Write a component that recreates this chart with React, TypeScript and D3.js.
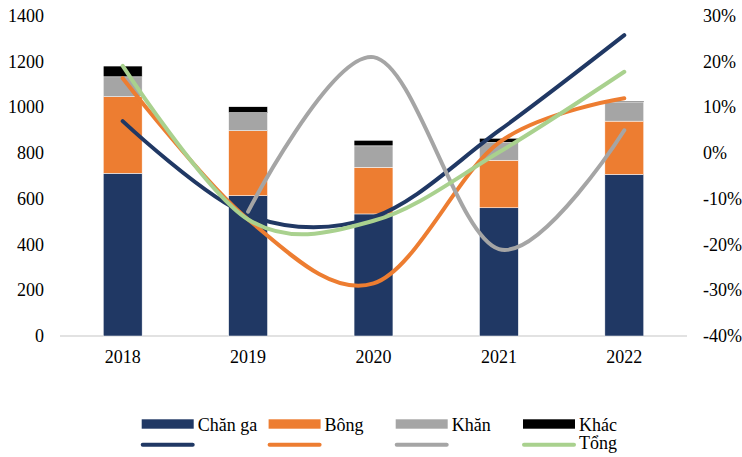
import React from "react";
import * as d3 from "d3";

const years = ["2018", "2019", "2020", "2021", "2022"];
const chanGa = [712, 614, 534, 561, 707];
const bong = [335, 284, 204, 208, 233];
const khan = [87, 79, 94, 78, 84];
const khac = [47, 26, 24, 18, 4];

const chanGaGrowth: (number | null)[] = [7.0, -13.5, -14.0, 4.9, 25.8];
const bongGrowth: (number | null)[] = [16.4, -14.5, -28.5, 2.3, 12.0];
const khanGrowth: (number | null)[] = [null, -12.8, 21.0, -21.0, 5.0];
const tongGrowth: (number | null)[] = [19.1, -14.5, -14.8, 0.2, 17.8];

const leftTicks = [0, 200, 400, 600, 800, 1000, 1200, 1400];
const rightTicks = [-40, -30, -20, -10, 0, 10, 20, 30];

const barSeries = [
  { name: "Chăn ga", values: chanGa, color: "#203864" },
  { name: "Bông", values: bong, color: "#ED7D31" },
  { name: "Khăn", values: khan, color: "#A5A5A5" },
  { name: "Khác", values: khac, color: "#000000" },
];
const lineSeries = [
  { name: "", values: chanGaGrowth, color: "#203864" },
  { name: "", values: bongGrowth, color: "#ED7D31" },
  { name: "", values: khanGrowth, color: "#A5A5A5" },
  { name: "Tổng", values: tongGrowth, color: "#A9D18E" },
];

const FONT = "'Liberation Serif', 'Times New Roman', serif";
const FS = 18;

export default function App() {
  const W = 742, H = 457;
  const x = d3.scalePoint<string>().domain(years).range([60, 687]).padding(0.5);
  const step = x.step();
  const barW = step * 0.31;
  const yL = d3.scaleLinear().domain([0, 1400]).range([336, 16]);
  const yR = d3.scaleLinear().domain([-40, 30]).range([336, 16]);

  const stacked = years.map((_, i) => {
    let acc = 0;
    return barSeries.map((s) => {
      const y0 = acc;
      acc += s.values[i];
      return { y0, y1: acc, color: s.color };
    });
  });

  const line = d3
    .line<number | null>()
    .defined((d) => d !== null)
    .x((_, i) => x(years[i]) as number)
    .y((d) => yR(d as number))
    .curve(d3.curveCardinal.tension(0));

  const legendX = [141.7, 268.6, 395.7, 523];

  return (
    <svg width={W} height={H} style={{ position: "absolute", left: 0, top: 0, background: "#fff" }} fontFamily={FONT}>
      <line x1={60} x2={687} y1={yL(0)} y2={yL(0)} stroke="#D9D9D9" strokeWidth={1.5} />
      {stacked.map((segs, i) =>
        segs.map((s, j) => (
          <rect
            key={`${i}-${j}`}
            x={(x(years[i]) as number) - barW / 2}
            y={yL(s.y1)}
            width={barW}
            height={yL(s.y0) - yL(s.y1)}
            fill={s.color}
            stroke="#ffffff"
            strokeWidth={0.5}
          />
        ))
      )}
      {lineSeries.map((s, k) => (
        <path
          key={k}
          d={line(s.values) || ""}
          fill="none"
          stroke={s.color}
          strokeWidth={4}
          strokeLinecap="round"
          strokeLinejoin="round"
        />
      ))}
      {leftTicks.map((t) => (
        <text key={t} x={44} y={yL(t)} textAnchor="end" dominantBaseline="central" fontSize={FS} fill="#000">
          {t}
        </text>
      ))}
      {rightTicks.map((t) => (
        <text key={t} x={703} y={yR(t)} textAnchor="start" dominantBaseline="central" fontSize={FS} fill="#000">
          {t}%
        </text>
      ))}
      {years.map((yr) => (
        <text key={yr} x={x(yr) as number} y={357} textAnchor="middle" dominantBaseline="central" fontSize={FS} fill="#000">
          {yr}
        </text>
      ))}
      {barSeries.map((s, i) => (
        <g key={s.name}>
          <rect x={legendX[i]} y={419.3} width={52} height={9.4} fill={s.color} />
          <text x={legendX[i] + 56} y={424.5} dominantBaseline="central" fontSize={FS} fill="#000">
            {s.name}
          </text>
        </g>
      ))}
      {lineSeries.map((s, i) => (
        <g key={i}>
          <line x1={legendX[i] + 1} x2={legendX[i] + 51} y1={444.7} y2={444.7} stroke={s.color} strokeWidth={4} strokeLinecap="round" />
          {s.name && (
            <text x={legendX[i] + 56} y={443} dominantBaseline="central" fontSize={FS} fill="#000">
              {s.name}
            </text>
          )}
        </g>
      ))}
    </svg>
  );
}
